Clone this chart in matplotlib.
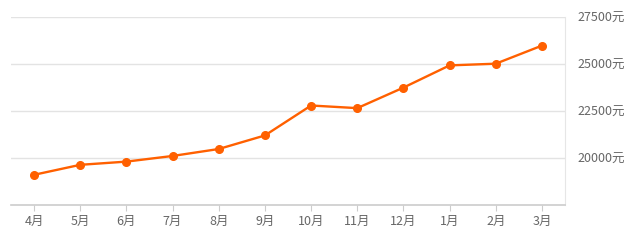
import matplotlib.pyplot as plt

plt.rcParams['font.family'] = ['Noto Sans CJK SC', 'DejaVu Sans']

months = ['4月', '5月', '6月', '7月', '8月', '9月', '10月', '11月', '12月', '1月', '2月', '3月']
prices = [19120, 19650, 19820, 20120, 20490, 21210, 22800, 22660, 23750, 24930, 25020, 25980]
y_ticks = [20000, 22500, 25000, 27500]

fig = plt.figure(figsize=(6.4, 2.41), dpi=100)
ax = fig.add_axes([11 / 640, (241 - 205.3) / 241, (565 - 11) / 640, (205.3 - 17) / 241])

x = range(len(months))
ax.plot(x, prices, color='#ff6000', linewidth=1.7, marker='o', markersize=5.5, zorder=3)

ax.set_xlim(-0.5, len(months) - 0.5)
ax.set_ylim(17500, 27500)
ax.set_xticks(list(x))
ax.set_xticklabels(months)
ax.set_yticks(y_ticks)
ax.set_yticklabels([f'{v}元' for v in y_ticks])
ax.yaxis.tick_right()

ax.grid(axis='y', color='#e3e3e3', linewidth=1)
ax.set_axisbelow(True)
for s in ['left', 'top']:
    ax.spines[s].set_visible(False)
ax.spines['right'].set_color('#e6e6e6')
ax.spines['bottom'].set_color('#cccccc')
ax.spines['bottom'].set_linewidth(1.2)

ax.tick_params(axis='y', length=0, pad=9, labelsize=9, labelcolor='#666666')
ax.tick_params(axis='x', length=4, color='#cccccc', pad=3, labelsize=9, labelcolor='#666666')
for lab in ax.get_yticklabels():
    lab.set_horizontalalignment('left')

fig.savefig('out.png', dpi=100)
